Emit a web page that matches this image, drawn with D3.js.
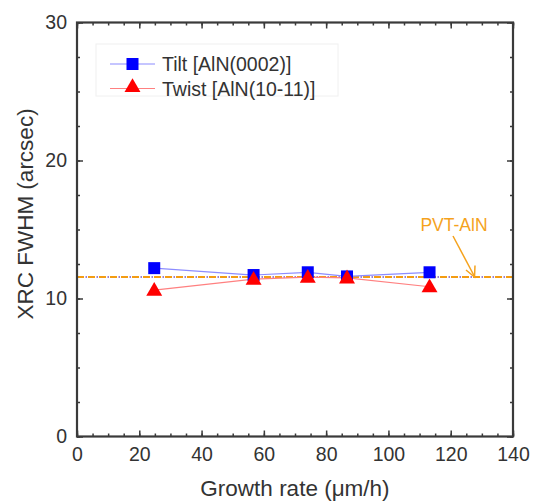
<!DOCTYPE html>
<html>
<head>
<meta charset="utf-8">
<script src="https://cdn.jsdelivr.net/npm/d3@7"></script>
<style>
  body { margin: 0; background: #fff; }
  text { font-family: Arial, "Liberation Sans", sans-serif; fill: #333; }
</style>
</head>
<body>
<div class="chart"></div>
<script>
// growth rate (um/h)
var growthRate = [24.8, 56.7, 74.1, 86.7, 113.2];
var tilt = [12.2, 11.7, 11.9, 11.6, 11.9];
var twist = [10.6, 11.4, 11.55, 11.5, 10.85];
var pvtValue = 11.55;
var xTicks = [0, 20, 40, 60, 80, 100, 120, 140];
var yTicks = [0, 10, 20, 30];

var width = 535, height = 503;
var margin = { left: 77, right: 22, top: 22.5, bottom: 66.5 };

var svg = d3.select(".chart")
  .append("svg")
  .attr("width", width)
  .attr("height", height);

var x = d3.scaleLinear().domain([0, 140]).range([margin.left, width - margin.right]);
var y = d3.scaleLinear().domain([0, 30]).range([height - margin.bottom, margin.top]);

// pvt reference line: orange dashes + purple dots
svg.append("line")
  .attr("x1", x(0)).attr("x2", x(140))
  .attr("y1", y(pvtValue)).attr("y2", y(pvtValue))
  .attr("stroke", "#f39c12").attr("stroke-width", 2)
  .attr("stroke-dasharray", "7,4");
svg.append("line")
  .attr("x1", x(0) + 8.5).attr("x2", x(140))
  .attr("y1", y(pvtValue)).attr("y2", y(pvtValue))
  .attr("stroke", "#9a7fd0").attr("stroke-width", 2)
  .attr("stroke-dasharray", "1.5,9.5");

// series lines
var line = d3.line().x((d, i) => x(growthRate[i])).y(d => y(d));

svg.append("path").datum(tilt)
  .attr("d", line).attr("fill", "none")
  .attr("stroke", "#8c8cff").attr("stroke-width", 1.2);
svg.append("path").datum(twist)
  .attr("d", line).attr("fill", "none")
  .attr("stroke", "#ff8080").attr("stroke-width", 1.2);

var sq = 12;
svg.append("g").selectAll("rect")
  .data(tilt).enter().append("rect")
  .attr("x", (d, i) => x(growthRate[i]) - sq / 2)
  .attr("y", d => y(d) - sq / 2)
  .attr("width", sq).attr("height", sq)
  .attr("fill", "#0000ff");

var tri = d3.symbol().type(d3.symbolTriangle).size(110);
svg.append("g").selectAll("path")
  .data(twist).enter().append("path")
  .attr("d", tri)
  .attr("transform", (d, i) => "translate(" + x(growthRate[i]) + "," + (y(d) + 1) + ")")
  .attr("fill", "#ff0000");

// axes with inside ticks
var axisColor = "#3a3a3a";
function styleAxis(g) {
  g.select(".domain").remove();
  g.selectAll("line").attr("stroke", axisColor).attr("stroke-width", 1.5);
  g.selectAll("text").style("font-size", "19.5px").attr("fill", "#333");
}

svg.append("g").attr("transform", "translate(0," + y(0) + ")")
  .call(d3.axisBottom(x).tickValues(d3.range(0, 141, 5)).tickSize(-3).tickFormat(""))
  .call(styleAxis);
svg.append("g").attr("transform", "translate(0," + y(0) + ")")
  .call(d3.axisBottom(x).tickValues(xTicks).tickSize(-6).tickPadding(11).tickFormat(d3.format("d")))
  .call(styleAxis);
svg.append("g").attr("transform", "translate(0," + y(30) + ")")
  .call(d3.axisTop(x).tickValues(d3.range(0, 141, 5)).tickSize(-3).tickFormat(""))
  .call(styleAxis);
svg.append("g").attr("transform", "translate(0," + y(30) + ")")
  .call(d3.axisTop(x).tickValues(xTicks).tickSize(-6).tickFormat(""))
  .call(styleAxis);

svg.append("g").attr("transform", "translate(" + x(0) + ",0)")
  .call(d3.axisLeft(y).tickValues(d3.range(0, 30.1, 2.5)).tickSize(-3).tickFormat(""))
  .call(styleAxis);
svg.append("g").attr("transform", "translate(" + x(0) + ",0)")
  .call(d3.axisLeft(y).tickValues(yTicks).tickSize(-6).tickPadding(10).tickFormat(d3.format("d")))
  .call(styleAxis);
svg.append("g").attr("transform", "translate(" + x(140) + ",0)")
  .call(d3.axisRight(y).tickValues(d3.range(0, 30.1, 2.5)).tickSize(-3).tickFormat(""))
  .call(styleAxis);
svg.append("g").attr("transform", "translate(" + x(140) + ",0)")
  .call(d3.axisRight(y).tickValues(yTicks).tickSize(-6).tickFormat(""))
  .call(styleAxis);

// frame
svg.append("rect")
  .attr("x", x(0)).attr("y", y(30))
  .attr("width", x(140) - x(0)).attr("height", y(0) - y(30))
  .attr("fill", "none").attr("stroke", axisColor).attr("stroke-width", 2.2);

// axis titles
svg.append("text")
  .attr("x", (x(0) + x(140)) / 2).attr("y", 496)
  .attr("text-anchor", "middle").style("font-size", "22.5px")
  .text("Growth rate (\u03bcm/h)");
svg.append("text")
  .attr("transform", "translate(33,214) rotate(-90)")
  .attr("text-anchor", "middle").style("font-size", "22.5px")
  .text("XRC FWHM (arcsec)");

// legend
var legend = svg.append("g");
legend.append("rect")
  .attr("x", 96).attr("y", 44).attr("width", 242).attr("height", 52)
  .attr("fill", "#fff").attr("stroke", "#f0f0f0").attr("stroke-width", 1);
var items = [
  { label: "Tilt [AlN(0002)]", line: "#8c8cff", fill: "#0000ff", shape: "square" },
  { label: "Twist [AlN(10-11)]", line: "#ff8080", fill: "#ff0000", shape: "triangle" }
];
items.forEach(function (it, i) {
  var cy = 64 + i * 24.5;
  legend.append("line")
    .attr("x1", 110).attr("x2", 155).attr("y1", cy).attr("y2", cy)
    .attr("stroke", it.line).attr("stroke-width", 1.2);
  if (it.shape === "square") {
    legend.append("rect")
      .attr("x", 132.5 - sq / 2).attr("y", cy - sq / 2)
      .attr("width", sq).attr("height", sq).attr("fill", it.fill);
  } else {
    legend.append("path").attr("d", tri)
      .attr("transform", "translate(132.5," + (cy - 1) + ")")
      .attr("fill", it.fill);
  }
  legend.append("text")
    .attr("x", 162).attr("y", cy + 7)
    .style("font-size", "19.5px")
    .text(it.label);
});

// pvt annotation
var orange = "#f5a21c";
svg.append("text")
  .attr("x", 454).attr("y", 231)
  .attr("text-anchor", "middle").style("font-size", "17.5px")
  .attr("fill", orange).style("fill", orange)
  .text("PVT-AlN");
svg.append("line")
  .attr("x1", 453).attr("y1", 236).attr("x2", 474.5).attr("y2", 276.5)
  .attr("stroke", orange).attr("stroke-width", 1.5);
svg.append("path")
  .attr("d", "M466,270 L474.5,277 L475,265.5")
  .attr("fill", "none").attr("stroke", orange).attr("stroke-width", 1.5);
</script>
</body>
</html>
